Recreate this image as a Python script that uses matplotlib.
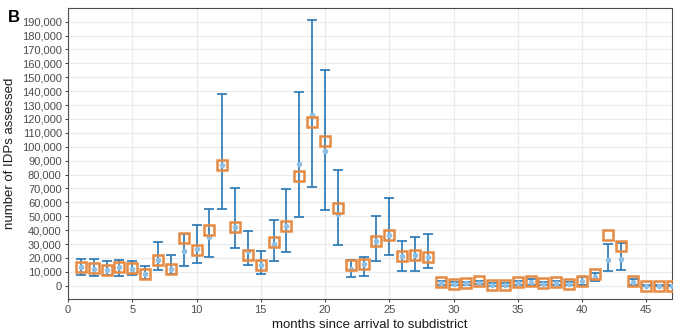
import numpy as np
import matplotlib
matplotlib.use('Agg')
import matplotlib.pyplot as plt
from matplotlib.ticker import FuncFormatter, MultipleLocator

plt.rcParams['font.family'] = ['Liberation Sans', 'DejaVu Sans']

months = list(range(1, 48))
assessed = [13700, 12700, 11500, 13700, 12700, 8600, 18900, 12400, 34200, 25900,
            40300, 87000, 42200, 22300, 15100, 31700, 42700, 78900, 118000, 104000,
            56100, 14800, 16000, 32100, 36400, 21600, 22500, 20900, 2600, 1400,
            1900, 3800, 700, 700, 2400, 3600, 1700, 2600, 1400, 3300,
            8400, 36400, 28500, 3100, 0, 0, 0]
predicted = [13200, 12400, 11200, 13200, 12400, 8400, 18900, 12400, 24700, 26600,
             35300, 87000, 42200, 24900, 15100, 29700, 42700, 87500, 122700, 96800,
             51300, 12200, 15500, 32100, 36400, 21600, 22500, 20900, 2100, 1400,
             1700, 2100, 700, 700, 2000, 2700, 1500, 2000, 1400, 3300,
             6200, 18900, 19600, 2700, 100, 100, 100]
lower = [7600, 7200, 7600, 7200, 7600, 5200, 11500, 8800, 14400, 16300,
         20400, 54900, 27300, 15100, 8400, 17500, 24200, 49400, 70900, 54200,
         29200, 6500, 6700, 17700, 21800, 10800, 10800, 12900, 900, 300,
         600, 1000, 0, 0, 800, 700, 500, 600, 400, 400,
         3100, 10800, 11200, 700, 0, 0, 0]
upper = [19100, 19600, 17500, 18400, 18000, 13900, 31400, 22000, 37600, 43400,
         54900, 138100, 70000, 39100, 24700, 47500, 69500, 139700, 191100, 155100,
         83000, 18900, 20800, 50100, 62800, 31900, 35000, 36900, 3300, 2600,
         2700, 3300, 1700, 1700, 3300, 5200, 2700, 3300, 2400, 6500,
         9300, 29900, 30900, 5000, 300, 300, 300]
y_ticks = list(range(0, 190001, 10000))

pred = np.array(predicted)
yerr = [pred - np.array(lower), np.array(upper) - pred]

fig, ax = plt.subplots(figsize=(6.79, 3.33), dpi=100)
fig.subplots_adjust(left=68/679, right=672/679, top=1-8/333, bottom=1-299/333)

ax.errorbar(months, predicted, yerr=yerr, fmt='none', ecolor='#2676b3',
            elinewidth=1.2, capsize=3.6, capthick=1.2, zorder=2)
ax.plot(months, predicted, 'o', color='#8fc0e3', ms=3, zorder=3)
ax.plot(months, assessed, 's', mfc='none', mec='#e58a43', mew=1.8, ms=6.8, zorder=4)

ax.set_xlim(0, 47)
ax.set_ylim(-9500, 199800)
ax.xaxis.set_major_locator(MultipleLocator(5))
ax.set_yticks(y_ticks)
ax.yaxis.set_major_formatter(FuncFormatter(lambda v, p: f'{int(v):,}'))

ax.grid(True, color='#ebebeb', linewidth=0.9)
ax.set_axisbelow(True)
for s in ax.spines.values():
    s.set_color('#4d4d4d')
    s.set_linewidth(0.8)
ax.tick_params(colors='#4d4d4d', labelsize=8, length=2.5, width=0.8, pad=2)
for lab in ax.get_xticklabels() + ax.get_yticklabels():
    lab.set_color('#4d4d4d')

ax.set_xlabel('months since arrival to subdistrict', fontsize=9.5, color='#1a1a1a', labelpad=3)
ax.set_ylabel('number of IDPs assessed', fontsize=9.5, color='#1a1a1a', labelpad=4)
fig.text(8/679, 1-18/333, 'B', fontsize=12, fontweight='bold', va='center', ha='left')

fig.savefig('out.png', dpi=100)
